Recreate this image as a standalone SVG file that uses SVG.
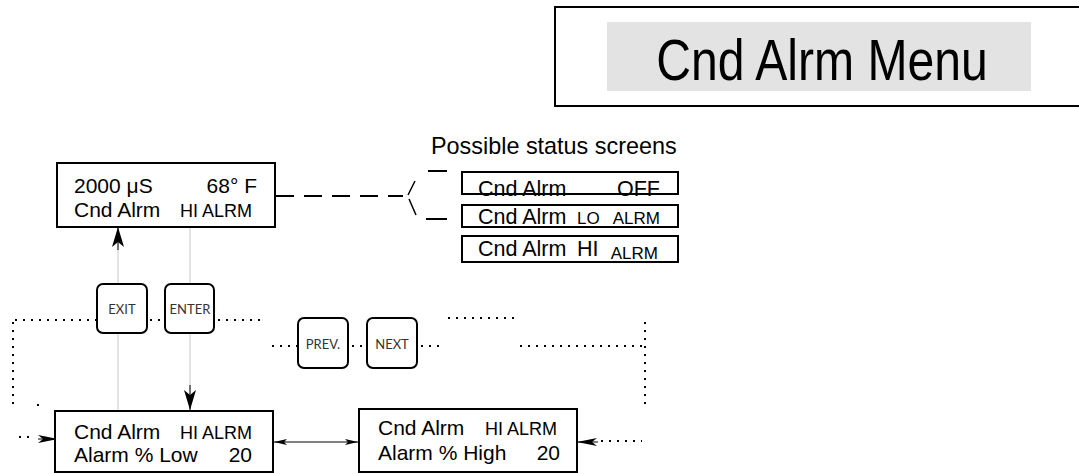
<svg xmlns="http://www.w3.org/2000/svg" width="1079" height="474" viewBox="0 0 1079 474">
<style>
.t{font-family:"Liberation Sans",Arial,sans-serif;fill:#000}
.box{fill:#fff;stroke:#000;stroke-width:2}
.frame{fill:none;stroke:#000;stroke-width:2}
.btn{fill:#fff;stroke:#000;stroke-width:2}
.bl{font-family:Lato,"Open Sans",sans-serif;font-size:13px;fill:#333;text-anchor:middle}
.dot{fill:none;stroke:#000;stroke-width:2;stroke-dasharray:2 6}
.grey{stroke:#c8c8c8;stroke-width:1;fill:none}
.dash{fill:none;stroke:#000;stroke-width:2;stroke-dasharray:18 10}
.ln{stroke:#000;stroke-width:1;fill:none}
</style>
<defs>
<marker id="ahv" viewBox="0 0 20 12" refX="20" refY="6" markerWidth="20" markerHeight="12" markerUnits="userSpaceOnUse" orient="auto">
<path d="M0,0 L20,6 L0,12 L5,6 Z" fill="#000"/>
</marker>
<marker id="ahh" viewBox="0 0 20 8" refX="20" refY="4" markerWidth="20" markerHeight="8" markerUnits="userSpaceOnUse" orient="auto">
<path d="M0,0 L20,4 L0,8 L5,4 Z" fill="#000"/>
</marker>
<marker id="ahd" viewBox="0 0 13 6" refX="13" refY="3" markerWidth="13" markerHeight="6" markerUnits="userSpaceOnUse" orient="auto-start-reverse">
<path d="M0,0 L13,3 L0,6 L3,3 Z" fill="#000"/>
</marker>
</defs>

<g id="title">
<rect x="555" y="7" width="540" height="99" fill="#fff" stroke="#000" stroke-width="2"/>
<rect x="607" y="22" width="424" height="69" fill="#e3e3e3"/>
<text class="t" transform="translate(822,80) scale(0.83,1)" x="0" y="0" font-size="58" text-anchor="middle">Cnd Alrm Menu</text>
</g>

<g id="connectors">
<line class="grey" x1="118" y1="240" x2="118" y2="411"/>
<line class="ln" x1="118" y1="250" x2="118" y2="227" marker-end="url(#ahv)"/>
<line class="grey" x1="190" y1="228" x2="190" y2="395"/>
<line class="ln" x1="190" y1="385" x2="190" y2="410" marker-end="url(#ahv)"/>
<line class="ln" x1="274" y1="442" x2="358" y2="442" marker-start="url(#ahd)" marker-end="url(#ahd)"/>
<path class="dash" d="M276,196 H403"/>
<path d="M408,195 L415,181 M409,199 L416,215" stroke="#000" stroke-width="1.5" fill="none"/>
<path d="M428,171 H447 M426,219 H447" stroke="#000" stroke-width="2" fill="none"/>
<path class="dot" d="M15,320 H97 M150,320 H165 M218,320 H265"/>
<path class="dot" d="M13,322 V405"/>
<path class="dot" d="M37,405 H45"/>
<path class="dot" d="M19,437 H35"/>
<line class="ln" x1="38" y1="439" x2="58" y2="439" marker-end="url(#ahh)"/>
<path class="dot" d="M272,346 H298 M352,346 H367 M421,346 H442"/>
<path class="dot" d="M448,318 H514"/>
<path class="dot" d="M520,346 H646"/>
<path class="dot" d="M645,322 V405"/>
<path class="dot" d="M601,441 H642"/>
<line class="ln" x1="598" y1="442" x2="577" y2="442" marker-end="url(#ahh)"/>
</g>

<g id="status-main">
<rect class="box" x="57" y="163" width="218" height="64"/>
<text class="t" x="74" y="193" font-size="21">2000 μS</text>
<text class="t" x="257" y="193" font-size="21" text-anchor="end">68° F</text>
<text class="t" x="74" y="217" font-size="21">Cnd Alrm</text>
<text class="t" x="252" y="217" font-size="18" text-anchor="end">HI ALRM</text>
</g>

<g id="possible-label">
<text class="t" x="431" y="154" font-size="23.4">Possible status screens</text>
</g>

<g id="screen-off">
<rect x="462" y="172" width="216" height="22" fill="#fff"/>
<text class="t" x="478" y="196" font-size="21.5">Cnd Alrm</text>
<text class="t" x="660" y="196" font-size="21.5" text-anchor="end">OFF</text>
<rect class="frame" x="462" y="172" width="216" height="22"/>
</g>
<g id="screen-lo">
<rect class="box" x="462" y="205" width="216" height="22"/>
<text class="t" x="478" y="224" font-size="21.5">Cnd Alrm</text>
<text class="t" x="577" y="224" font-size="17">LO</text>
<text class="t" x="660" y="224" font-size="17" text-anchor="end">ALRM</text>
</g>
<g id="screen-hi">
<rect class="box" x="462" y="236" width="216" height="26"/>
<text class="t" x="478" y="256" font-size="21.5">Cnd Alrm</text>
<text class="t" x="577" y="256" font-size="21.5">HI</text>
<text class="t" x="658" y="259" font-size="17" text-anchor="end">ALRM</text>
</g>

<g id="btn-exit">
<rect class="btn" x="97" y="284" width="50" height="49" rx="6"/>
<text class="bl" x="122" y="314">EXIT</text>
</g>
<g id="btn-enter">
<rect class="btn" x="165" y="284" width="49" height="49" rx="6"/>
<text class="bl" x="190" y="314">ENTER</text>
</g>
<g id="btn-prev">
<rect class="btn" x="298" y="318" width="50" height="50" rx="6"/>
<text class="bl" x="323" y="349">PREV.</text>
</g>
<g id="btn-next">
<rect class="btn" x="367" y="318" width="50" height="50" rx="6"/>
<text class="bl" x="392" y="349">NEXT</text>
</g>

<g id="menu-low">
<rect class="box" x="55" y="411" width="218" height="61"/>
<text class="t" x="74" y="439" font-size="21">Cnd Alrm</text>
<text class="t" x="252" y="439" font-size="18" text-anchor="end">HI ALRM</text>
<text class="t" x="74" y="462" font-size="21">Alarm % Low</text>
<text class="t" x="252" y="462" font-size="21" text-anchor="end">20</text>
</g>
<g id="menu-high">
<rect class="box" x="359" y="409" width="218" height="63"/>
<text class="t" x="378" y="435" font-size="21">Cnd Alrm</text>
<text class="t" x="557" y="435" font-size="18" text-anchor="end">HI ALRM</text>
<text class="t" x="378" y="460" font-size="21">Alarm % High</text>
<text class="t" x="560" y="460" font-size="21" text-anchor="end">20</text>
</g>
</svg>
